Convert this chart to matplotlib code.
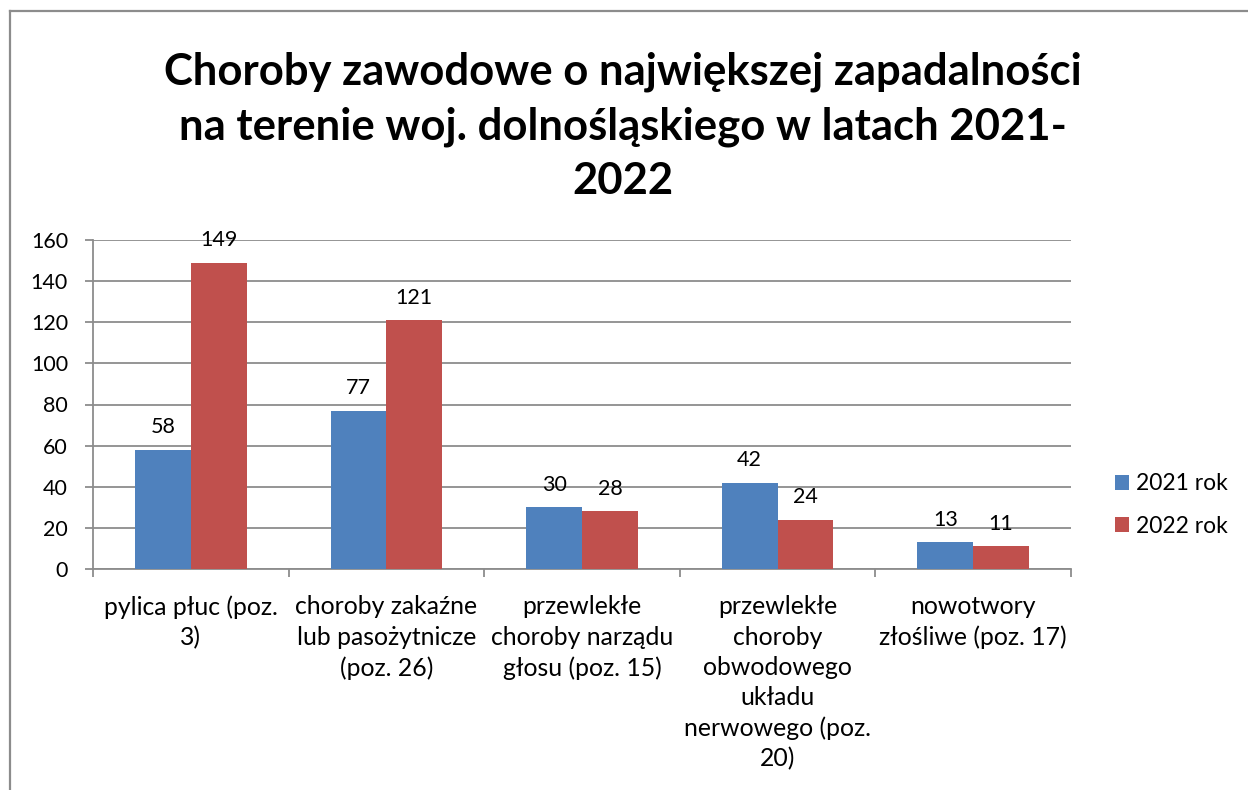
import matplotlib.pyplot as plt
import numpy as np
from matplotlib.lines import Line2D

plt.rcParams['font.family'] = ['Lato', 'DejaVu Sans']

categories = [
    "pylica płuc (poz.\n3)",
    "choroby zakaźne\nlub pasożytnicze\n(poz. 26)",
    "przewlekłe\nchoroby narządu\ngłosu (poz. 15)",
    "przewlekłe\nchoroby\nobwodowego\nukładu\nnerwowego (poz.\n20)",
    "nowotwory\nzłośliwe (poz. 17)",
]
values_2021 = [58, 77, 30, 42, 13]
values_2022 = [149, 121, 28, 24, 11]
series_names = ["2021 rok", "2022 rok"]
yticks = [0, 20, 40, 60, 80, 100, 120, 140, 160]

title = ("Choroby zawodowe o największej zapadalności\n"
         "na terenie woj. dolnośląskiego w latach 2021-\n2022")

W, H = 1248, 790
fig = plt.figure(figsize=(W / 100, H / 100), dpi=100)

# outer chart frame (left and top visible, rest cut off)
frame_color = '#8c8c8c'
fig.add_artist(Line2D([10 / W, 10 / W], [0, 1 - 11 / H], transform=fig.transFigure,
                      color=frame_color, lw=1.6))
fig.add_artist(Line2D([10 / W, 1], [1 - 11 / H, 1 - 11 / H], transform=fig.transFigure,
                      color=frame_color, lw=1.6))

ax = fig.add_axes([93 / W, (H - 569) / H, (1071 - 93) / W, (569 - 240) / H])

x = np.arange(len(categories))
bw = 1 / 3.5
blue = '#4F81BD'
red = '#C0504D'
b1 = ax.bar(x - bw / 2, values_2021, bw, color=blue, label=series_names[0], zorder=3)
b2 = ax.bar(x + bw / 2, values_2022, bw, color=red, label=series_names[1], zorder=3)

for bars in (b1, b2):
    for rect in bars:
        h = rect.get_height()
        ax.annotate(f"{h:g}", (rect.get_x() + rect.get_width() / 2, h),
                    xytext=(0, 9), textcoords='offset points',
                    ha='center', va='bottom', fontsize=15.5, color='black', zorder=4)

ax.set_xlim(-0.5, len(categories) - 0.5)
ax.set_ylim(0, 160)
ax.set_yticks(yticks)
ax.yaxis.grid(True, color='#8c8c8c', lw=1.3, zorder=0)

ax.set_xticks(x)
ax.set_xticklabels(categories, fontsize=17.8, linespacing=1.38, va='top')
ax.set_xticks(np.arange(-0.5, len(categories)), minor=True)
ax.tick_params(axis='x', which='major', length=0, pad=19)
ax.tick_params(axis='x', which='minor', length=6, width=1.3, color='#8c8c8c', direction='out')
ax.tick_params(axis='y', length=6, width=1.3, color='#8c8c8c', labelsize=15.5, pad=12)

for s in ('top', 'right'):
    ax.spines[s].set_visible(False)
for s in ('left', 'bottom'):
    ax.spines[s].set_color('#8c8c8c')
    ax.spines[s].set_linewidth(1.3)

fig.text(623 / W, 1 - 52 / H, title, ha='center', va='top', fontsize=31.4,
         fontweight='bold', linespacing=1.42)

ax.legend(loc='center left', bbox_to_anchor=(1094 / W, 1 - 505 / H),
          bbox_transform=fig.transFigure, frameon=False, fontsize=16.5,
          handlelength=0.62, handleheight=0.62, handletextpad=0.3, labelspacing=0.92)

fig.savefig('out.png', dpi=100, facecolor='white')
